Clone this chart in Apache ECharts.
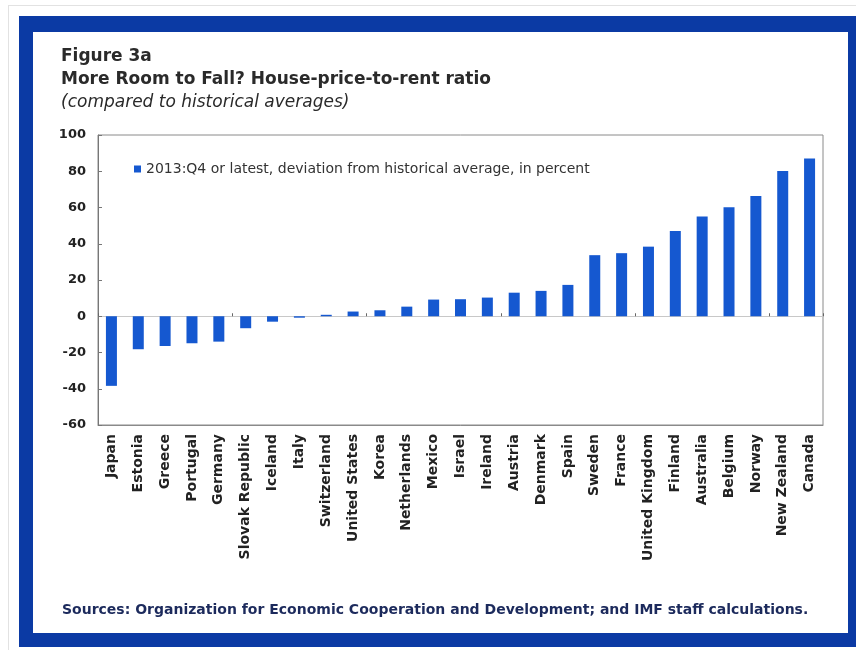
<!DOCTYPE html>
<html>
<head>
<meta charset="utf-8">
<script src="https://cdn.jsdelivr.net/npm/echarts@6/dist/echarts.min.js"></script>
<style>
  html, body { margin: 0; padding: 0; background: #ffffff; }
  #outer { position: absolute; left: 8px; top: 5px; width: 860px; height: 660px; border: 1px solid #e2e2e2; }
  #frame { position: absolute; left: 19px; top: 16px; width: 837px; height: 631px; background: #0b3aa4; }
  #inner { position: absolute; left: 33px; top: 32px; width: 815px; height: 601px; background: #ffffff; }
  #chart { position: absolute; left: 0; top: 0; width: 856px; height: 650px; }
</style>
</head>
<body>
<div id="outer"></div>
<div id="frame"></div>
<div id="inner"></div>
<div id="chart"></div>
<script>
const categories = ["Japan", "Estonia", "Greece", "Portugal", "Germany", "Slovak Republic", "Iceland", "Italy", "Switzerland", "United States", "Korea", "Netherlands", "Mexico", "Israel", "Ireland", "Austria", "Denmark", "Spain", "Sweden", "France", "United Kingdom", "Finland", "Australia", "Belgium", "Norway", "New Zealand", "Canada"];
const deviation = [-38.4, -18.2, -16.4, -14.9, -14.0, -6.6, -3.0, -0.8, 0.8, 2.6, 3.3, 5.3, 9.2, 9.4, 10.3, 13.0, 14.0, 17.3, 33.7, 34.8, 38.4, 47.0, 55.0, 60.1, 66.4, 80.2, 87.0];
const seriesName = "2013:Q4 or latest, deviation from historical average, in percent";
const yTicks = { min: -60, max: 100, interval: 20 };

const font = "DejaVu Sans";
const chart = echarts.init(document.getElementById('chart'), null, { renderer: 'canvas' });
chart.setOption({
  backgroundColor: 'transparent',
  animation: false,
  title: [
    { text: 'Figure 3a', left: 56, top: 43, textStyle: { fontFamily: font, fontSize: 17, fontWeight: 'bold', color: '#2a2a2a' } },
    { text: 'More Room to Fall? House-price-to-rent ratio', left: 56, top: 66, textStyle: { fontFamily: font, fontSize: 17, fontWeight: 'bold', color: '#2a2a2a' } },
    { text: '(compared to historical averages)', left: 56, top: 89, textStyle: { fontFamily: font, fontSize: 17, fontWeight: 'normal', fontStyle: 'italic', color: '#2a2a2a' } },
    { text: 'Sources: Organization for Economic Cooperation and Development; and IMF staff calculations.', left: 57, top: 598, textStyle: { fontFamily: font, fontSize: 14, fontWeight: 'bold', color: '#1c2a5c' } }
  ],
  legend: {
    left: 129, top: 157,
    icon: 'rect', itemWidth: 7, itemHeight: 7, itemGap: 5,
    textStyle: { fontFamily: font, fontSize: 14, color: '#333' },
    data: [seriesName]
  },
  grid: { left: 98, right: 33, top: 135, bottom: 225, show: true, borderColor: '#8a8a8a', borderWidth: 1, backgroundColor: 'transparent' },
  xAxis: [
    {
      type: 'category', data: categories, position: 'bottom',
      axisLine: { onZero: true, lineStyle: { color: '#c8c8c8', width: 1 } },
      axisTick: { show: true, inside: true, length: 3, lineStyle: { color: '#666' } },
      axisLabel: { show: false }
    },
    {
      type: 'category', data: categories, position: 'bottom',
      axisLine: { onZero: false, lineStyle: { color: '#8a8a8a' } },
      axisTick: { show: false },
      axisLabel: { interval: 0, rotate: 90, margin: 9, fontFamily: font, fontSize: 14, fontWeight: 'bold', color: '#222' }
    }
  ],
  yAxis: {
    type: 'value', min: yTicks.min, max: yTicks.max, interval: yTicks.interval,
    axisLine: { show: true, lineStyle: { color: '#777' } },
    axisTick: { show: true, inside: true, length: 4, lineStyle: { color: '#777' } },
    splitLine: { show: false },
    axisLabel: { margin: 12, fontFamily: font, fontSize: 13, fontWeight: 'bold', color: '#222' }
  },
  series: [{
    name: seriesName, type: 'bar', xAxisIndex: 0, data: deviation,
    barWidth: 11, itemStyle: { color: '#1558d0' }
  }]
});
</script>
</body>
</html>
